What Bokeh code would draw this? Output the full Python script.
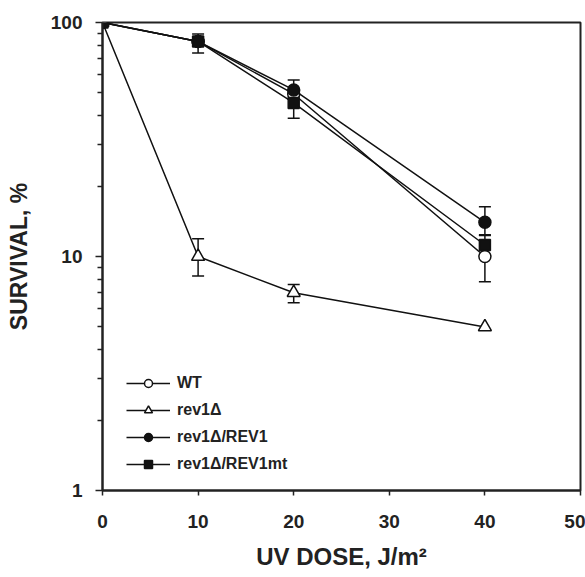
from bokeh.plotting import figure
from bokeh.models import (ColumnDataSource, Whisker, TeeHead, FixedTicker,
                          Legend, LegendItem, Range1d)
from bokeh.embed import file_html
from bokeh.resources import INLINE

# ---- data ----
dose = [0, 10, 20, 40]

wt = [100, 83, 49.5, 10]
rev1d = [100, 10, 7.0, 5.0]
rev1d_rev1 = [100, 83, 51.5, 14.0]
rev1d_rev1mt = [100, 83, 45.3, 11.2]

# error bars: (dose, lower, upper)
wt_err = [(40, 7.8, 12.3)]
rev1d_err = [(10, 8.25, 11.9), (20, 6.35, 7.6)]
rev1d_rev1_err = [(20, 47, 56.8), (40, 12.4, 16.3)]
rev1d_rev1mt_err = [(10, 74, 89.3), (20, 39, 50)]

x_ticks = [0, 10, 20, 30, 40, 50]
y_ticks = [1, 10, 100]
y_minor = [2, 3, 4, 5, 6, 7, 8, 9, 20, 30, 40, 50, 60, 70, 80, 90]

FONT = "Liberation Sans"

p = figure(frame_width=478, frame_height=468, y_axis_type="log",
           x_range=Range1d(0, 50), y_range=Range1d(1, 100),
           output_backend="svg", toolbar_location=None,
           min_border_left=102, min_border_right=5, min_border_top=22,
           min_border_bottom=83)
p.grid.visible = False
p.outline_line_color = "#222222"
p.outline_line_width = 2
p.background_fill_color = "white"
p.border_fill_color = "white"

p.xaxis.ticker = FixedTicker(ticks=x_ticks)
p.yaxis.ticker = FixedTicker(ticks=y_ticks, minor_ticks=y_minor)
p.yaxis.major_label_overrides = {1: "1", 10: "10", 100: "100"}

for ax in (p.xaxis, p.yaxis):
    ax.axis_line_width = 2
    ax.axis_line_color = "#222222"
    ax.major_tick_line_color = "#222222"
    ax.minor_tick_line_color = "#222222"
    ax.major_tick_line_width = 1.5
    ax.minor_tick_line_width = 1.5
    ax.major_tick_in = 0
    ax.minor_tick_in = 0
    ax.major_label_text_font = FONT
    ax.major_label_text_font_style = "bold"
    ax.major_label_text_font_size = "19px"
    ax.major_label_text_color = "#222222"
    ax.axis_label_text_font = FONT
    ax.axis_label_text_font_style = "bold"
    ax.axis_label_text_color = "#222222"

p.xaxis.major_tick_out = 5
p.xaxis.minor_tick_out = 0
p.xaxis.major_label_standoff = 19
p.xaxis.axis_label = "UV DOSE, J/m²"
p.xaxis.axis_label_standoff = 12
p.xaxis.axis_label_text_font_size = "24px"

p.yaxis.major_tick_out = 7
p.yaxis.minor_tick_out = 5
p.yaxis.major_label_standoff = 13
p.yaxis.axis_label = "SURVIVAL, %"
p.yaxis.axis_label_standoff = 16
p.yaxis.axis_label_text_font_size = "23px"

series = [
    ("WT", wt, wt_err, "circle", 12, "white"),
    ("rev1Δ", rev1d, rev1d_err, "triangle", 13, "white"),
    ("rev1Δ/REV1", rev1d_rev1, rev1d_rev1_err, "circle", 12, "#111111"),
    ("rev1Δ/REV1mt", rev1d_rev1mt, rev1d_rev1mt_err, "square", 11, "#111111"),
]

line_rs = []
for name, vals, errs, marker, size, fill in series:
    lr = p.line(dose, vals, line_color="#111111", line_width=1.5)
    line_rs.append(lr)

for name, vals, errs, marker, size, fill in series:
    if errs:
        src = ColumnDataSource(dict(x=[e[0] for e in errs],
                                    lo=[e[1] for e in errs],
                                    hi=[e[2] for e in errs]))
        w = Whisker(base="x", lower="lo", upper="hi", source=src,
                    line_color="#111111", line_width=1.5, level="underlay",
                    upper_head=TeeHead(size=12, line_width=1.5, line_color="#111111"),
                    lower_head=TeeHead(size=12, line_width=1.5, line_color="#111111"))
        p.add_layout(w)

items = []
for (name, vals, errs, marker, size, fill), lr in zip(series, line_rs):
    sr = p.scatter(dose, vals, marker=marker, size=size, fill_color=fill,
                   line_color="#111111", line_width=1.5)
    items.append(LegendItem(label=name, renderers=[lr, sr]))

legend = Legend(items=items, location=(24, 16), padding=0, margin=0,
                spacing=7, glyph_height=20, glyph_width=44, label_standoff=7,
                border_line_color=None, background_fill_alpha=0,
                label_text_font=FONT, label_text_font_style="bold",
                label_text_font_size="16px", label_text_color="#222222")
p.add_layout(legend, "center")

open("out.html", "w").write(file_html(p, INLINE))
